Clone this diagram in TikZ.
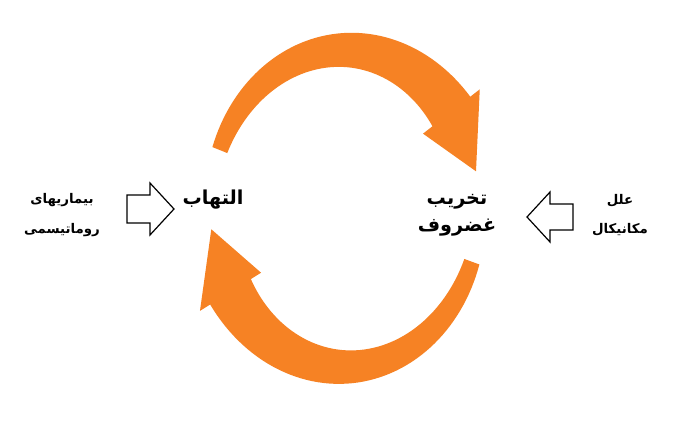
\documentclass[tikz,border=0pt]{standalone}
\usepackage{fontspec}
\newfontfamily\arabicfont[Script=Arabic]{DejaVu Sans}
\TeXXeTstate=1
\begin{document}
\begin{tikzpicture}[x=0.75pt,y=0.75pt]
\definecolor{org}{RGB}{246,130,36}
\tikzset{lbl/.style={font=\arabicfont\bfseries\Large, align=center},
 slbl/.style={font=\arabicfont\bfseries, align=center},
 hollow/.style={draw=black, fill=white, line width=0.9pt, line join=miter}}
\useasboundingbox (0,0) rectangle (678,422);
\fill[white] (0,0) rectangle (678,422);
% top arc
\fill[org] plot[domain=158:38,samples=60] ({345+(135+(8+(158-\x)/120*16))*cos(\x)},{212+(160+(8+(158-\x)/120*16))*sin(\x)})
 -- ({345+(135+36)*cos(38)},{212+(160+36)*sin(38)})
 -- ({345+135*cos(14)},{212+160*sin(14)})
 -- ({345+(135-36)*cos(38)},{212+(160-36)*sin(38)})
 -- plot[domain=38:158,samples=60] ({345+(135-(8+(158-\x)/120*16))*cos(\x)},{212+(160-(8+(158-\x)/120*16))*sin(\x)}) -- cycle;
% bottom arc
\fill[org] plot[domain=340:212,samples=60] ({345+(135+(8+(340-\x)/128*16))*cos(\x)},{215+(160+(8+(340-\x)/128*16))*sin(\x)})
 -- ({345+(135+36)*cos(212)},{215+(160+36)*sin(212)})
 -- ({345+135*cos(188)},{215+160*sin(188)})
 -- ({345+(135-36)*cos(212)},{215+(160-36)*sin(212)})
 -- plot[domain=212:340,samples=60] ({345+(135-(8+(340-\x)/128*16))*cos(\x)},{215+(160-(8+(340-\x)/128*16))*sin(\x)}) -- cycle;
% hollow block arrows
\draw[hollow] (127,227) -- (150,227) -- (150,239) -- (174,213) -- (150,187) -- (150,199) -- (127,199) -- cycle;
\draw[hollow] (573,218) -- (550,218) -- (550,230) -- (527,205) -- (550,180) -- (550,192) -- (573,192) -- cycle;
\node[lbl] (inf) at (213,222) {\beginR التهاب\endR};
\node[lbl] (car) at (457,207) {\beginR تخریب\endR\\[2pt]\beginR غضروف\endR};
\node[slbl] (rheu) at (62,207) {\beginR بیماریهای\endR\\[10pt]\beginR روماتیسمی\endR};
\node[slbl] (mech) at (620,207) {\beginR علل\endR\\[10pt]\beginR مکانیکال\endR};
\end{tikzpicture}
\end{document}
